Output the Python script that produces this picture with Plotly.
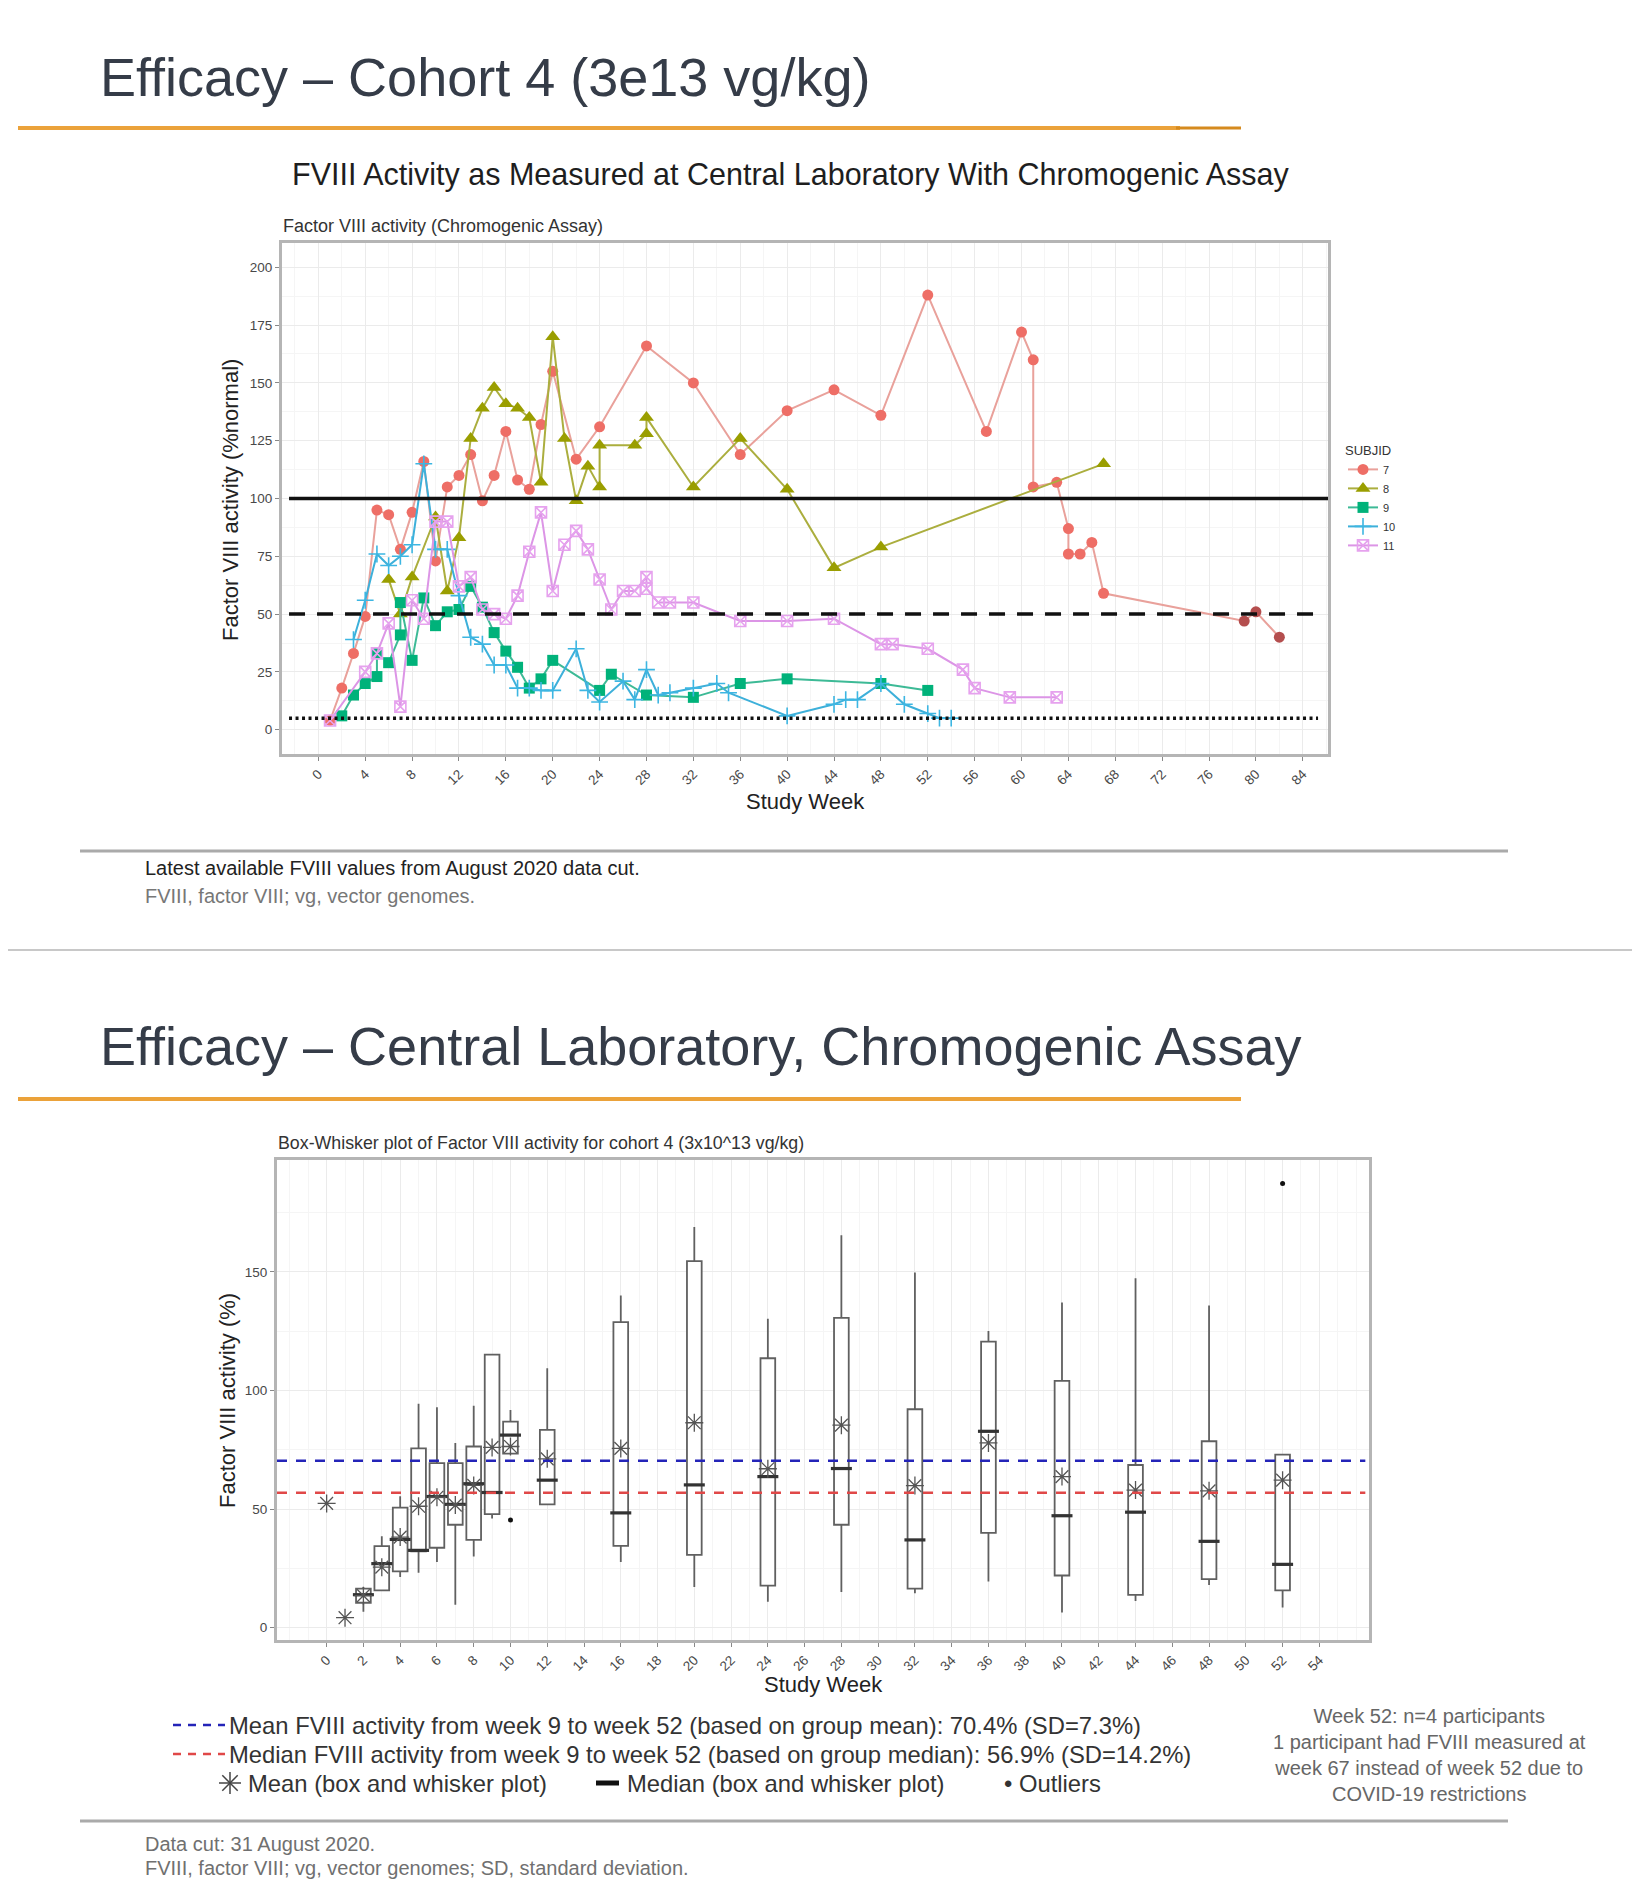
import plotly.graph_objects as go

W, H = 1640, 1894
PAD = 8  # default body margin of the html page

# ---------------- data: top chart (FVIII activity per subject) ----------------
s7_week = [1, 2, 3, 4, 5, 6, 7, 8, 9, 10, 11, 12, 13, 14, 15, 16, 17, 18, 19, 20, 22, 24, 28, 32, 36, 40, 44, 48,
           52, 57, 60, 61, 61, 63, 64, 64, 65, 66, 67, 79, 80, 82]
s7_val = [4, 18, 33, 49, 95, 93, 78, 94, 116, 73, 105, 110, 119, 99, 110, 129, 108, 104, 132, 155, 117, 131, 166, 150,
          119, 138, 147, 136, 188, 129, 172, 160, 105, 107, 87, 76, 76, 81, 59, 47, 51, 40]

s8_week = [6, 7, 8, 10, 11, 12, 13, 14, 15, 16, 17, 18, 19, 20, 21, 22, 23, 24, 24, 27, 28, 28, 32, 36, 40, 44, 48, 67]
s8_val = [65, 50, 66, 92, 60, 83, 126, 139, 148, 141, 139, 135, 107, 170, 126, 99, 114, 105, 123, 123, 128, 135, 105,
          126, 104, 70, 79, 115]

s9_week = [2, 3, 4, 5, 5, 6, 7, 7, 8, 9, 10, 11, 12, 13, 14, 15, 16, 17, 18, 19, 20, 24, 25, 28, 32, 36, 40, 48, 52]
s9_val = [6, 15, 20, 23, 33, 29, 41, 55, 30, 57, 45, 51, 52, 62, 53, 42, 34, 27, 18, 22, 30, 17, 24, 15, 14, 20, 22,
          20, 17]

s10_week = [3, 4, 5, 6, 7, 8, 9, 10, 11, 12, 13, 14, 15, 16, 17, 18, 19, 20, 22, 23, 24, 26, 27, 28, 29, 30, 32, 34,
            35, 40, 44, 45, 46, 48, 50, 52, 53, 54]
s10_val = [39, 56, 76, 71, 75, 80, 115, 78, 78, 58, 40, 37, 28, 28, 18, 18, 17, 17, 35, 17, 12, 21, 13, 26, 15, 16, 18,
           20, 16, 6, 11, 13, 13, 20, 11, 7, 5, 5]

s11_week = [1, 4, 5, 6, 7, 8, 9, 10, 11, 12, 13, 14, 15, 16, 17, 18, 19, 20, 21, 22, 23, 24, 25, 26, 27, 28, 28, 29,
            30, 32, 36, 40, 44, 48, 49, 52, 55, 56, 59, 63]
s11_val = [4, 25, 33, 46, 10, 56, 48, 90, 90, 62, 66, 52, 50, 48, 58, 77, 94, 60, 80, 86, 78, 65, 52, 60, 60, 66, 61,
           55, 55, 55, 47, 47, 48, 37, 37, 35, 26, 18, 14, 14]

subjects = ["7", "8", "9", "10", "11"]
top_x_ticks = list(range(0, 88, 4))
top_y_ticks = [0, 25, 50, 75, 100, 125, 150, 175, 200]
ref_upper, ref_mid, ref_low = 100, 50, 5

# ---------------- data: bottom chart (box-whisker summary) ----------------
box_week = [2, 3, 4, 5, 6, 7, 8, 9, 10, 12, 16, 20, 24, 28, 32, 36, 40, 44, 48, 52]
box_q1 = [10.5, 15.7, 23.7, 32.2, 33.7, 43.4, 37.0, 47.9, 73.4, 52.0, 34.5, 30.7, 17.7, 43.4, 16.5, 40.0, 22.0, 13.8,
          20.5, 15.7]
box_med = [13.9, 27.0, 37.2, 32.6, 55.3, 52.0, 60.7, 57.0, 81.2, 62.2, 48.4, 60.2, 63.7, 67.1, 37.0, 82.8, 47.2, 48.7,
           36.4, 26.7]
box_q3 = [16.5, 34.4, 50.6, 75.6, 69.4, 69.4, 76.4, 115.1, 86.9, 83.4, 128.8, 154.6, 113.6, 130.6, 92.1, 120.6, 104.1,
          68.6, 78.6, 73.0]
box_lo = [6.7, 15.7, 21.4, 23.2, 27.7, 9.7, 30.0, 46.0, 73.4, 52.0, 27.7, 17.2, 10.9, 15.0, 14.5, 19.5, 6.4, 11.2,
          18.0, 8.5]
box_hi = [17.2, 38.5, 55.4, 94.4, 92.9, 77.9, 93.6, 115.1, 91.8, 109.4, 140.1, 169.0, 130.3, 165.5, 149.8, 125.1,
          137.1, 147.3, 135.9, 73.0]
mean_week = [0, 1, 2, 3, 4, 5, 6, 7, 8, 9, 10, 12, 16, 20, 24, 28, 32, 36, 40, 44, 48, 52]
mean_val = [52.4, 4.2, 13.5, 25.5, 38.2, 51.2, 55.0, 51.7, 60.0, 76.0, 76.4, 71.2, 75.6, 86.4, 67.0, 85.4, 59.9, 77.9,
            63.7, 58.0, 57.7, 62.2]
outlier_week = [10, 52]
outlier_val = [45.4, 187.3]
group_mean = 70.4
group_median = 56.9
bot_x_ticks = list(range(0, 56, 2))
bot_y_ticks = [0, 50, 100, 150]

FW, FH = W - 2 * PAD, H - 2 * PAD


# ---------------- helpers (page pixel -> paper) ----------------
def px(x):
    return (x - PAD) / FW


def py(y):
    return 1 - (y - PAD) / FH


FONT = "Liberation Sans, Arial, sans-serif"

fig = go.Figure()

# ---------------- top chart traces ----------------
styles = {
    "7": dict(w=s7_week, v=s7_val, mcolor="#EE6E66", lcolor="#E9A19B", symbol="circle", size=11),
    "8": dict(w=s8_week, v=s8_val, mcolor="#9A9E00", lcolor="#ABAE3E", symbol="triangle-up", size=13),
    "9": dict(w=s9_week, v=s9_val, mcolor="#00B27A", lcolor="#3DBA96", symbol="square", size=11),
    "10": dict(w=s10_week, v=s10_val, mcolor="#3DB6E2", lcolor="#3DB0DA", symbol="cross-thin-open", size=12),
    "11": dict(w=s11_week, v=s11_val, mcolor="#E6A2EE", lcolor="#DC95E6", symbol="square-x-open", size=11),
}
for s in subjects:
    st = styles[s]
    mcol = st["mcolor"]
    if s == "7":
        mcol = [st["mcolor"]] * (len(st["w"]) - 3) + ["#B44E4E"] * 3
    marker = dict(symbol=st["symbol"], size=st["size"], color=mcol)
    if "open" in st["symbol"]:
        marker["line"] = dict(color=st["mcolor"], width=1.6)
    fig.add_trace(go.Scatter(
        x=st["w"], y=st["v"], mode="lines+markers", name=s,
        line=dict(color=st["lcolor"], width=2), marker=marker,
        xaxis="x", yaxis="y", showlegend=True,
    ))

# ---------------- bottom chart traces ----------------
fig.add_trace(go.Box(
    x=box_week, q1=box_q1, median=box_med, q3=box_q3, lowerfence=box_lo, upperfence=box_hi,
    width=0.8, whiskerwidth=0, fillcolor="white", line=dict(color="#606060", width=1.8),
    boxpoints=False, xaxis="x2", yaxis="y2", showlegend=False, hoverinfo="skip",
))
fig.add_trace(go.Scatter(
    x=box_week, y=box_med, mode="markers", xaxis="x2", yaxis="y2", showlegend=False,
    marker=dict(symbol="line-ew", size=15, color="#333333", line=dict(color="#333333", width=3.2)),
))
fig.add_trace(go.Scatter(
    x=mean_week, y=mean_val, mode="markers", xaxis="x2", yaxis="y2", showlegend=False,
    marker=dict(symbol="asterisk-open", size=15, color="#555555", line=dict(color="#555555", width=1.3)),
))
fig.add_trace(go.Scatter(
    x=outlier_week, y=outlier_val, mode="markers", xaxis="x2", yaxis="y2", showlegend=False,
    marker=dict(symbol="circle", size=5, color="#111111"),
))

# ---------------- reference lines ----------------
shapes = []
shapes.append(dict(type="line", xref="x", yref="y", x0=-2.5, x1=86.15, y0=ref_upper, y1=ref_upper,
                   line=dict(color="#111111", width=3.5)))
shapes.append(dict(type="line", xref="x", yref="y", x0=-2.5, x1=85.0, y0=ref_mid, y1=ref_mid,
                   line=dict(color="#111111", width=3.5, dash="16px,12px")))
shapes.append(dict(type="line", xref="x", yref="y", x0=-2.5, x1=85.3, y0=ref_low, y1=ref_low,
                   line=dict(color="#111111", width=3.5, dash="3px,3.5px")))
shapes.append(dict(type="line", xref="x2", yref="y2", x0=-2.7, x1=56.5, y0=group_mean, y1=group_mean,
                   line=dict(color="#2424B8", width=2.6, dash="10px,9px")))
shapes.append(dict(type="line", xref="x2", yref="y2", x0=-2.7, x1=56.5, y0=group_median, y1=group_median,
                   line=dict(color="#E04848", width=2.6, dash="10px,9px")))

# ---------------- slide decorations ----------------
ORANGE = "#EBA23A"
for yy in (128, 1099):
    shapes.append(dict(type="line", xref="paper", yref="paper", x0=px(18), x1=px(1180), y0=py(yy), y1=py(yy),
                       line=dict(color=ORANGE, width=4)))
shapes.append(dict(type="line", xref="paper", yref="paper", x0=px(1176), x1=px(1241), y0=py(128), y1=py(128),
                   line=dict(color="#D58A1E", width=3)))
shapes.append(dict(type="line", xref="paper", yref="paper", x0=px(1180), x1=px(1241), y0=py(1099), y1=py(1099),
                   line=dict(color=ORANGE, width=4)))
for yy in (851, 1821):
    shapes.append(dict(type="line", xref="paper", yref="paper", x0=px(80), x1=px(1508), y0=py(yy), y1=py(yy),
                       line=dict(color="#AAAAAA", width=3)))
shapes.append(dict(type="line", xref="paper", yref="paper", x0=0, x1=1, y0=py(950), y1=py(950),
                   line=dict(color="#C8C8C8", width=2)))
# legend glyphs below bottom chart
shapes.append(dict(type="line", xref="paper", yref="paper", x0=px(173), x1=px(225), y0=py(1725), y1=py(1725),
                   line=dict(color="#2424B8", width=2.6, dash="8px,7px")))
shapes.append(dict(type="line", xref="paper", yref="paper", x0=px(173), x1=px(225), y0=py(1754), y1=py(1754),
                   line=dict(color="#E04848", width=2.6, dash="8px,7px")))
shapes.append(dict(type="line", xref="paper", yref="paper", x0=px(596), x1=px(619), y0=py(1783), y1=py(1783),
                   line=dict(color="#111111", width=5)))
# asterisk glyph
cx, cy, r = 230, 1783, 11
for dx, dy in ((r, 0), (0, r), (0.7 * r, 0.7 * r), (0.7 * r, -0.7 * r)):
    shapes.append(dict(type="line", xref="paper", yref="paper", x0=px(cx - dx), x1=px(cx + dx),
                       y0=py(cy - dy), y1=py(cy + dy), line=dict(color="#444444", width=1.5)))

annotations = []


def text(x, y, s, size, color="#222222", xanchor="left", yanchor="middle", angle=0, align="left"):
    annotations.append(dict(x=px(x), y=py(y), xref="paper", yref="paper", text=s, showarrow=False,
                            xanchor=xanchor, yanchor=yanchor, textangle=angle, align=align,
                            font=dict(family=FONT, size=size, color=color)))


TITLE_C = "#353C48"
text(98, 77, "Efficacy – Cohort 4 (3e13 vg/kg)", 54, TITLE_C)
text(290, 174, "FVIII Activity as Measured at Central Laboratory With Chromogenic Assay", 30.5, "#1E1E1E")
text(281, 226, "Factor VIII activity (Chromogenic Assay)", 18, "#333333")
text(230, 500, "Factor VIII activity (%normal)", 22, "#222222", xanchor="center", angle=-90)
text(805, 801, "Study Week", 22, "#222222", xanchor="center")
text(143, 868, "Latest available FVIII values from August 2020 data cut.", 20, "#222222")
text(143, 896, "FVIII, factor VIII; vg, vector genomes.", 20, "#777777")

text(98, 1046, "Efficacy – Central Laboratory, Chromogenic Assay", 54, TITLE_C)
text(276, 1143, "Box-Whisker plot of Factor VIII activity for cohort 4 (3x10^13 vg/kg)", 17.8, "#333333")
text(227, 1400, "Factor VIII activity (%)", 22, "#222222", xanchor="center", angle=-90)
text(823, 1684, "Study Week", 22, "#222222", xanchor="center")
text(227, 1725, "Mean FVIII activity from week 9 to week 52 (based on group mean): 70.4% (SD=7.3%)", 23.8, "#333333")
text(227, 1754, "Median FVIII activity from week 9 to week 52 (based on group median): 56.9% (SD=14.2%)", 23.8,
     "#333333")
text(246, 1783, "Mean (box and whisker plot)", 23.8, "#333333")
text(625, 1783, "Median (box and whisker plot)", 23.8, "#333333")
text(1002, 1783, "• Outliers", 23.8, "#333333")
text(1429, 1755, "Week 52: n=4 participants<br>1 participant had FVIII measured at<br>week 67 instead of week 52 due to"
                 "<br>COVID-19 restrictions", 20, "#666666", xanchor="center", align="center")
text(143, 1844, "Data cut: 31 August 2020.", 20, "#707070")
text(143, 1868, "FVIII, factor VIII; vg, vector genomes; SD, standard deviation.", 20, "#707070")

FRAME = "#B5B5B5"
GRID = "#EBEBEB"
MINOR = "#F5F5F5"
tickfont = dict(family=FONT, size=13.5, color="#484848")

fig.update_layout(
    width=FW, height=FH, margin=dict(l=0, r=0, t=0, b=0),
    paper_bgcolor="white", plot_bgcolor="white",
    shapes=shapes, annotations=annotations,
    legend=dict(x=px(1343), y=py(438), xanchor="left", yanchor="top",
                title=dict(text="SUBJID", font=dict(family=FONT, size=13, color="#333333")),
                font=dict(family=FONT, size=11, color="#333333"), tracegroupgap=0, itemwidth=30,
                bgcolor="rgba(0,0,0,0)"),
    xaxis=dict(domain=[px(282), px(1328)], anchor="y", range=[-3.1, 86.15], tickmode="array",
               tickvals=top_x_ticks, ticktext=[str(t) for t in top_x_ticks], tickangle=-45,
               tickfont=tickfont, ticks="outside", ticklen=4, tickcolor="#888888",
               showgrid=True, gridcolor=GRID, gridwidth=1.2, zeroline=False,
               minor=dict(dtick=2, tick0=0, showgrid=True, gridcolor=MINOR),
               showline=True, mirror=True, linecolor=FRAME, linewidth=3),
    yaxis=dict(domain=[py(754), py(243)], anchor="x", range=[-10.5, 210.5], tickmode="array",
               tickvals=top_y_ticks, ticktext=[str(t) for t in top_y_ticks],
               tickfont=tickfont, ticks="outside", ticklen=4, tickcolor="#888888",
               showgrid=True, gridcolor=GRID, gridwidth=1.2, zeroline=False,
               minor=dict(dtick=12.5, tick0=0, showgrid=True, gridcolor=MINOR),
               showline=True, mirror=True, linecolor=FRAME, linewidth=3),
    xaxis2=dict(domain=[px(277), px(1369)], anchor="y2", range=[-2.7, 56.7], tickmode="array",
                tickvals=bot_x_ticks, ticktext=[str(t) for t in bot_x_ticks], tickangle=-45,
                tickfont=tickfont, ticks="outside", ticklen=4, tickcolor="#888888",
                showgrid=True, gridcolor=GRID, gridwidth=1.2, zeroline=False,
                minor=dict(dtick=1, tick0=0, showgrid=True, gridcolor=MINOR),
                showline=True, mirror=True, linecolor=FRAME, linewidth=3),
    yaxis2=dict(domain=[py(1640), py(1160)], anchor="x2", range=[-5.2, 197.2], tickmode="array",
                tickvals=bot_y_ticks, ticktext=[str(t) for t in bot_y_ticks],
                tickfont=tickfont, ticks="outside", ticklen=4, tickcolor="#888888",
                showgrid=True, gridcolor=GRID, gridwidth=1.2, zeroline=False,
                minor=dict(dtick=25, tick0=0, showgrid=True, gridcolor=MINOR),
                showline=True, mirror=True, linecolor=FRAME, linewidth=3),
)

fig.write_html("out.html")
